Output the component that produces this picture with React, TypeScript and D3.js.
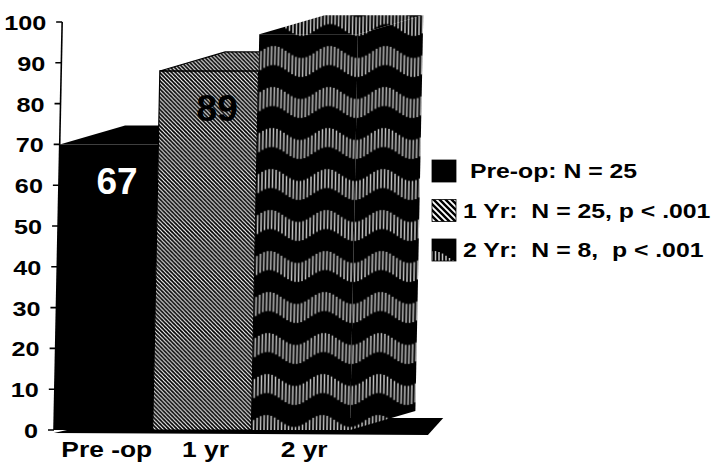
import React from "react";
import * as d3 from "d3";

const categories = ["Pre -op", "1 yr", "2 yr"];
const barValues = [70, 88, 97];
const valueLabels = ["67", "89", ""];
const yTickValues = [0, 10, 20, 30, 40, 50, 60, 70, 80, 90, 100];
const legendLabels = [" Pre-op: N = 25", "1 Yr:  N = 25, p < .001", "2 Yr:  N = 8,  p < .001"];

const W = 712;
const H = 474;
const Y0 = 430;
const K = 0.02;
const DX = 65;
const DY = -19;
const FONT = "'Liberation Sans', Arial, Helvetica, sans-serif";
const barFills = ["#000", "url(#hatch)", "url(#wave)"];
const legendFills = ["#000", "url(#hatchCoarse)", "url(#wave)"];
const valueColors = ["#fff", "#000", "#000"];

type Pt = [number, number];

export default function App() {
  const y = d3.scaleLinear().domain([0, 100]).range([Y0, 22]);
  const x = d3.scaleBand<string>().domain(categories).range([54, 350]).padding(0);
  const sx = (px: number, py: number) => px + K * (Y0 - py);
  const lineGen = d3.line();
  const poly = (pts: Pt[]) => (lineGen(pts) as string) + "Z";

  const waveW = 56;
  const waveH = 41;
  const stripeXs = d3.range(1.5, waveW, 3.5);
  const waveTop = (px: number) => 11 + 6 * Math.sin((2 * Math.PI * px) / waveW);

  const axisX = x.range()[0];

  return (
    <svg
      width={W}
      height={H}
      style={{ position: "absolute", left: 0, top: 0, background: "#fff" }}
      fontFamily={FONT}
    >
      <defs>
        <pattern id="hatch" patternUnits="userSpaceOnUse" width={4} height={4}>
          <rect width={4} height={4} fill="#fff" />
          <path d="M-1,-1 L5,5 M-1,3 L1,5 M3,-1 L5,1" stroke="#000" strokeWidth={1.8} />
        </pattern>
        <pattern id="hatchCoarse" patternUnits="userSpaceOnUse" width={6} height={6}>
          <rect width={6} height={6} fill="#fff" />
          <path d="M-1,-1 L7,7 M-1,5 L1,7 M5,-1 L7,1" stroke="#000" strokeWidth={2.4} />
        </pattern>
        <pattern id="wave" patternUnits="userSpaceOnUse" width={waveW} height={waveH}>
          <rect width={waveW} height={waveH} fill="#000" />
          {stripeXs.map((sxv, i) => {
            const t = waveTop(sxv);
            return (
              <line
                key={i}
                x1={sxv}
                x2={sxv}
                y1={t}
                y2={t + 19}
                stroke="#c4c4c4"
                strokeWidth={1.5}
              />
            );
          })}
        </pattern>
      </defs>

      <g transform={`matrix(1,0,${-K},1,${K * Y0},0)`}>
        <path
          d={poly([
            [axisX, Y0 + 3],
            [428, Y0 + 5],
            [443, 418],
            [axisX + DX, 418],
          ])}
          fill="#000"
        />
        {categories.map((c, i) => {
          const x0 = x(c) as number;
          const x1 = x0 + x.bandwidth();
          const yt = y(barValues[i]);
          const stroke = i === 1 ? "#000" : "none";
          return (
            <g key={c}>
              <path
                d={poly([
                  [x0, Y0],
                  [x0, yt],
                  [x1, yt],
                  [x1, Y0],
                ])}
                fill={barFills[i]}
                stroke={stroke}
                strokeWidth={1.2}
              />
              <path
                d={poly([
                  [x0, yt],
                  [x0 + DX, yt + DY],
                  [x1 + DX, yt + DY],
                  [x1, yt],
                ])}
                fill={barFills[i]}
                stroke={stroke}
                strokeWidth={1.2}
              />
              {i === categories.length - 1 && (
                <path
                  d={poly([
                    [x1, yt],
                    [x1 + DX, yt + DY],
                    [x1 + DX, Y0 + DY],
                    [x1, Y0],
                  ])}
                  fill={barFills[i]}
                />
              )}
            </g>
          );
        })}
        <line x1={axisX} x2={axisX} y1={y(0)} y2={y(100)} stroke="#000" strokeWidth={1.6} />
        {yTickValues.map((t) => (
          <line
            key={t}
            x1={axisX - 6}
            x2={axisX}
            y1={y(t)}
            y2={y(t)}
            stroke="#000"
            strokeWidth={1.6}
          />
        ))}
      </g>

      {yTickValues.map((t) => {
        const ty = y(t);
        return (
          <text
            key={t}
            transform={`translate(${sx(axisX, ty) - 16},${ty + 8}) scale(1.2,1)`}
            textAnchor="end"
            fontSize={21}
            fontWeight="bold"
            fill="#000"
          >
            {t}
          </text>
        );
      })}

      {categories.map((c) => {
        const cx = (x(c) as number) + x.bandwidth() / 2;
        return (
          <text
            key={c}
            transform={`translate(${sx(cx, 457) + 4},457) scale(1.2,1)`}
            textAnchor="middle"
            fontSize={22}
            fontWeight="bold"
            fill="#000"
          >
            {c}
          </text>
        );
      })}

      {categories.map((c, i) => {
        if (!valueLabels[i]) return null;
        const cx = (x(c) as number) + x.bandwidth() / 2;
        const by = y(barValues[i]) + 50;
        return (
          <text
            key={c}
            x={sx(cx, by) + 9}
            y={by}
            textAnchor="middle"
            fontSize={37}
            fontWeight="bold"
            fill={valueColors[i]}
          >
            {valueLabels[i]}
          </text>
        );
      })}

      {legendLabels.map((l, i) => {
        const by = 178 + i * 39.5;
        return (
          <g key={l}>
            <rect x={432} y={by - 18} width={24} height={22} fill={legendFills[i]} stroke="#000" strokeWidth={0.8} />
            <text
              transform={`translate(463,${by}) scale(1.18,1)`}
              fontSize={21}
              fontWeight="bold"
              fill="#000"
              style={{ whiteSpace: "pre" }}
            >
              {l}
            </text>
          </g>
        );
      })}
    </svg>
  );
}
